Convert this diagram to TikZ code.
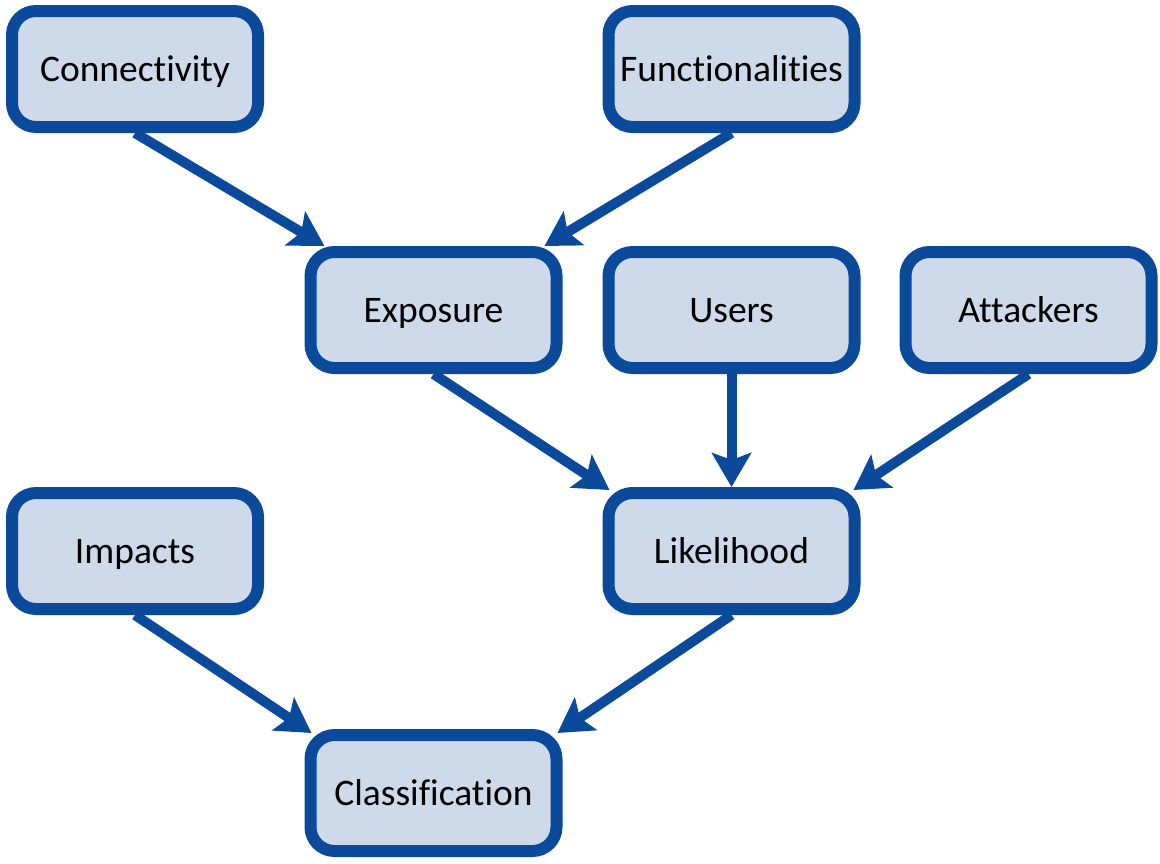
\documentclass[tikz,border=0pt]{standalone}
\usepackage{fontspec}
\setmainfont[Ligatures={NoCommon}]{Carlito}
\usetikzlibrary{arrows.meta,calc}
\definecolor{boxblue}{HTML}{0B4A9B}
\definecolor{boxfill}{HTML}{CEDAEA}
\tikzset{
  box/.style={draw=boxblue, fill=boxfill, line width=12pt, rounded corners=24pt,
    minimum width=246pt, minimum height=116pt, inner sep=0pt,
    text height=32pt, text depth=8pt,
    font=\fontsize{37.5}{44}\selectfont, text=black},
  conn/.style={draw=boxblue, line width=10pt,
    -{Stealth[length=34pt,width=39pt,inset=7pt]}}
}
\begin{document}
\begin{tikzpicture}[x=1pt,y=-1pt]
\useasboundingbox[fill=white] (0,0) rectangle (1160,863);
\node[box] (con) at (135,69) {Connectivity};
\node[box] (fun) at (731.5,69) {Functionalities};
\node[box] (exp) at (433.5,310) {Exposure};
\node[box] (use) at (731.5,310) {Users};
\node[box] (att) at (1028.5,310) {Attackers};
\node[box] (imp) at (135,551) {Impacts};
\node[box] (lik) at (731.5,551) {Likelihood};
\node[box] (cla) at (433.5,793) {Classification};
\coordinate (e1) at ([xshift=20pt]exp.north west);
\coordinate (e2) at ([xshift=-18pt]exp.north east);
\coordinate (l1) at ([xshift=7pt,yshift=-3pt]lik.north west);
\coordinate (l2) at ([xshift=-7pt,yshift=-3pt]lik.north east);
\coordinate (c1) at ([xshift=7pt,yshift=-4pt]cla.north west);
\coordinate (c2) at ([xshift=-5pt,yshift=-4pt]cla.north east);
\draw[conn] (con.south) -- (e1);
\draw[conn] (fun.south) -- (e2);
\draw[conn] (exp.south) -- (l1);
\draw[conn] (use.south) -- (lik.north);
\draw[conn] (att.south) -- (l2);
\draw[conn] (imp.south) -- (c1);
\draw[conn] (lik.south) -- (c2);
\end{tikzpicture}
\end{document}
